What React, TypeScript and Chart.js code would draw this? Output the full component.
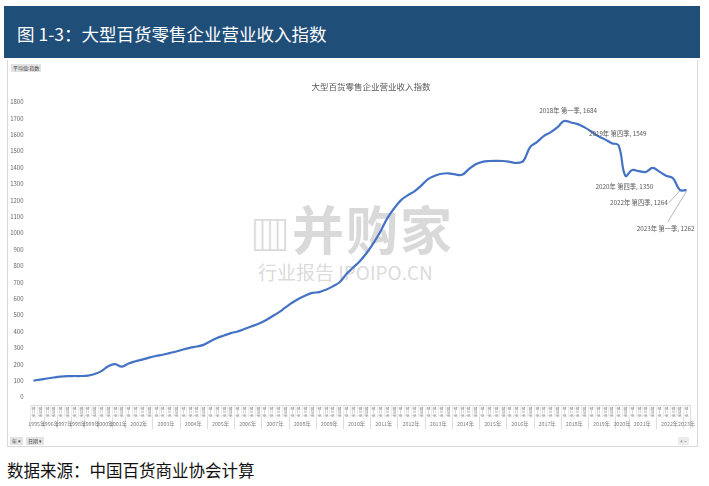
import React, { useEffect, useRef } from "react";
import { Chart, registerables } from "chart.js";

Chart.register(...registerables);

const FONT = '"Noto Sans CJK SC", "Noto Sans", sans-serif';

const pageTitle = "图 1-3：大型百货零售企业营业收入指数";
const chartTitle = "大型百货零售企业营业收入指数";
const sourceNote = "数据来源：中国百货商业协会计算";

const yearLabels = [
  "1995年", "1996年", "1997年", "1998年", "1999年", "2000年", "2001年",
  "2002年", "2003年", "2004年", "2005年", "2006年", "2007年", "2008年",
  "2009年", "2010年", "2011年", "2012年", "2013年", "2014年", "2015年",
  "2016年", "2017年", "2018年", "2019年", "2020年", "2021年", "2022年", "2023年",
];

const HALF = ["第二季", "第四季"];
const FULL = ["第一季", "第二季", "第三季", "第四季"];
const yearQuarters = [
  HALF, HALF, HALF, HALF, HALF, HALF, HALF,
  FULL, FULL, FULL, FULL, FULL, FULL, FULL,
  FULL, FULL, FULL, FULL, FULL, FULL, FULL,
  FULL, FULL, FULL, FULL, HALF, FULL, FULL, ["第一季"],
];

const indexValues = [
  100, 106, 113, 119, 124, 127, 128, 128, 130, 140, 158, 188, 200, 185,
  205, 218, 228, 240,
  250, 258, 268, 278,
  290, 300, 308, 318,
  340, 360, 375, 390,
  400, 415, 430, 445,
  465, 490, 515, 545,
  575, 600, 620, 635,
  640, 655, 675, 700,
  750, 790, 830, 880,
  940, 1010, 1090, 1150,
  1200, 1230, 1255, 1290,
  1330, 1350, 1362, 1365,
  1358, 1356, 1390, 1420,
  1435, 1440, 1441, 1440,
  1435, 1428, 1440, 1525,
  1555, 1592, 1615, 1645,
  1684, 1675, 1665, 1645,
  1620, 1592, 1572, 1549,
  1535, 1350,
  1385, 1378, 1373, 1398,
  1375, 1350, 1335, 1264,
  1262,
];

const yTicks = [0, 100, 200, 300, 400, 500, 600, 700, 800, 900, 1000, 1100, 1200, 1300, 1400, 1500, 1600, 1700, 1800];

const annotatedKeys = ["2018年 第一季", "2019年 第四季", "2020年 第四季", "2022年 第四季", "2023年 第一季"];
const annotationOffsets = [
  { dx: 4, dy: -10, lx: null, ly: null },
  { dx: 6, dy: -10, lx: null, ly: null },
  { dx: -1, dy: 11, lx: null, ly: null },
  { dx: -41, dy: 13, lx: -11, ly: 13 },
  { dx: -21, dy: 38, lx: -19, ly: 32 },
];

const categoryLabels: string[] = [];
const categoryQuarter: string[] = [];
const yearStart: number[] = [];
yearLabels.forEach((y, yi) => {
  yearStart.push(categoryLabels.length);
  yearQuarters[yi].forEach((q) => {
    categoryLabels.push(`${y} ${q}`);
    categoryQuarter.push(q);
  });
});

const axisPlugin = {
  id: "customAxis",
  afterDraw(chart: any) {
    const ctx = chart.ctx as CanvasRenderingContext2D;
    const xs = chart.scales.x;
    const area = chart.chartArea;
    const step = xs.getPixelForValue(1) - xs.getPixelForValue(0);
    const boxTop = area.bottom + 8;
    ctx.save();
    // title
    ctx.fillStyle = "#595959";
    ctx.font = `8.5px ${FONT}`;
    ctx.textAlign = "center";
    ctx.textBaseline = "middle";
    ctx.fillText(chartTitle, 364, 27);

    // label box lines
    ctx.strokeStyle = "#dedede";
    ctx.lineWidth = 1;
    ctx.beginPath();
    ctx.moveTo(area.left, boxTop + 0.5);
    ctx.lineTo(area.right, boxTop + 0.5);
    ctx.stroke();
    yearStart.forEach((s, yi) => {
      const x = Math.round(xs.getPixelForValue(s) - step / 2) + 0.5;
      ctx.beginPath();
      ctx.moveTo(x, boxTop);
      ctx.lineTo(x, boxTop + 24);
      ctx.stroke();
      if (yi === yearStart.length - 1) {
        const xe = Math.round(xs.getPixelForValue(categoryLabels.length - 1) + step / 2) + 0.5;
        ctx.beginPath();
        ctx.moveTo(xe, boxTop);
        ctx.lineTo(xe, boxTop + 24);
        ctx.stroke();
      }
    });
    // thin category cells
    ctx.strokeStyle = "#ececec";
    categoryLabels.forEach((_, i) => {
      const x = Math.round(xs.getPixelForValue(i) - step / 2) + 0.5;
      ctx.beginPath();
      ctx.moveTo(x, boxTop);
      ctx.lineTo(x, boxTop + 12);
      ctx.stroke();
    });

    // quarter labels rotated
    ctx.fillStyle = "#7f7f7f";
    ctx.font = `3.6px ${FONT}`;
    ctx.textAlign = "left";
    ctx.textBaseline = "middle";
    categoryQuarter.forEach((q, i) => {
      const x = xs.getPixelForValue(i);
      ctx.save();
      ctx.translate(x, boxTop + 1.5);
      ctx.rotate(Math.PI / 2);
      ctx.fillText(q, 0, 0);
      ctx.restore();
    });

    // year labels
    ctx.fillStyle = "#7f7f7f";
    ctx.font = `5.3px ${FONT}`;
    ctx.textAlign = "center";
    yearLabels.forEach((y, yi) => {
      const s = yearStart[yi];
      const e = yi + 1 < yearStart.length ? yearStart[yi + 1] - 1 : categoryLabels.length - 1;
      const x = (xs.getPixelForValue(s) + xs.getPixelForValue(e)) / 2;
      ctx.fillText(y, x, boxTop + 19);
    });

    // data labels
    const meta = chart.getDatasetMeta(0);
    ctx.font = `6.3px ${FONT}`;
    ctx.fillStyle = "#595959";
    ctx.strokeStyle = "#a6a6a6";
    ctx.lineWidth = 0.8;
    annotatedKeys.forEach((key, k) => {
      const i = categoryLabels.indexOf(key);
      if (i < 0) return;
      const pt = meta.data[i];
      const o = annotationOffsets[k];
      const text = `${key}, ${indexValues[i]}`;
      ctx.textAlign = "center";
      ctx.fillText(text, pt.x + o.dx, pt.y + o.dy);
      if (o.lx !== null && o.ly !== null) {
        ctx.beginPath();
        ctx.moveTo(pt.x + o.lx, pt.y + o.ly);
        ctx.lineTo(pt.x, pt.y + 1);
        ctx.stroke();
      }
    });
    ctx.restore();
  },
};

function ChartCanvas() {
  const ref = useRef<HTMLCanvasElement | null>(null);
  useEffect(() => {
    if (!ref.current) return;
    const chart = new Chart(ref.current, {
      type: "line",
      data: {
        labels: categoryLabels,
        datasets: [
          {
            data: indexValues,
            borderColor: "#4472C4",
            borderWidth: 2.2,
            pointRadius: 0,
            tension: 0.4,
            fill: false,
          },
        ],
      },
      options: {
        animation: false,
        responsive: false,
        devicePixelRatio: 1,
        layout: { padding: { left: 0, right: 8, top: 42, bottom: 50 } },
        plugins: { legend: { display: false }, tooltip: { enabled: false }, title: { display: false } },
        scales: {
          x: {
            type: "category",
            offset: true,
            display: false,
          },
          y: {
            min: 0,
            max: 1800,
            afterFit(scale: any) {
              scale.width = 23;
            },
            afterBuildTicks(scale: any) {
              scale.ticks = yTicks.map((v) => ({ value: v }));
            },
            grid: { display: false, drawTicks: false },
            border: { display: false },
            ticks: {
              padding: 6.5,
              color: "#666666",
              font: { size: 6, family: FONT },
              callback: (v: any) => String(v),
            },
          },
        },
      },
      plugins: [axisPlugin],
    } as any);
    return () => chart.destroy();
  }, []);
  return (
    <canvas
      ref={ref}
      width={691}
      height={387}
      style={{ position: "absolute", left: 7, top: 60, width: 691, height: 387 }}
    />
  );
}

const smallBtn: React.CSSProperties = {
  position: "absolute",
  background: "#e3e3e3",
  color: "#444",
  fontSize: 5,
  lineHeight: "8px",
  height: 8,
  padding: "0 2px",
  whiteSpace: "nowrap",
};

export default function App() {
  return (
    <div style={{ position: "absolute", left: 0, top: 0, width: 709, height: 486, fontFamily: FONT, background: "#fff", overflow: "hidden" }}>
      <div style={{ position: "absolute", left: 4, top: 6, width: 696, height: 52, background: "#1f4e79" }} />
      <div style={{ position: "absolute", left: 17, top: 23, color: "#fff", fontSize: 17.5, lineHeight: "22px", whiteSpace: "nowrap" }}>
        {pageTitle}
      </div>
      <div style={{ position: "absolute", left: 7, top: 60, width: 691, height: 387, border: "1px solid #d9d9d9", borderTop: "none", boxSizing: "border-box" }} />
      <div style={{ position: "absolute", left: 250, top: 198, color: "rgba(160,160,160,0.4)", fontSize: 52, fontWeight: 700, lineHeight: "60px", whiteSpace: "nowrap", letterSpacing: 2 }}>
        <span style={{ fontSize: 40 }}>▥</span>并购家
      </div>
      <div style={{ position: "absolute", left: 258, top: 260, color: "rgba(160,160,160,0.4)", fontSize: 19, lineHeight: "24px", whiteSpace: "nowrap" }}>
        行业报告 IPOIPO.CN
      </div>
      <ChartCanvas />
      <div style={{ ...smallBtn, left: 11, top: 64 }}>平均值:指数</div>
      <div style={{ ...smallBtn, left: 10, top: 437 }}>年 ▾</div>
      <div style={{ ...smallBtn, left: 26, top: 437 }}>日期 ▾</div>
      <div style={{ ...smallBtn, left: 678, top: 437, background: "#ececec" }}>+ −</div>
      <div style={{ position: "absolute", left: 7, top: 459, color: "#111", fontSize: 16.5, lineHeight: "22px", whiteSpace: "nowrap" }}>
        {sourceNote}
      </div>
    </div>
  );
}
